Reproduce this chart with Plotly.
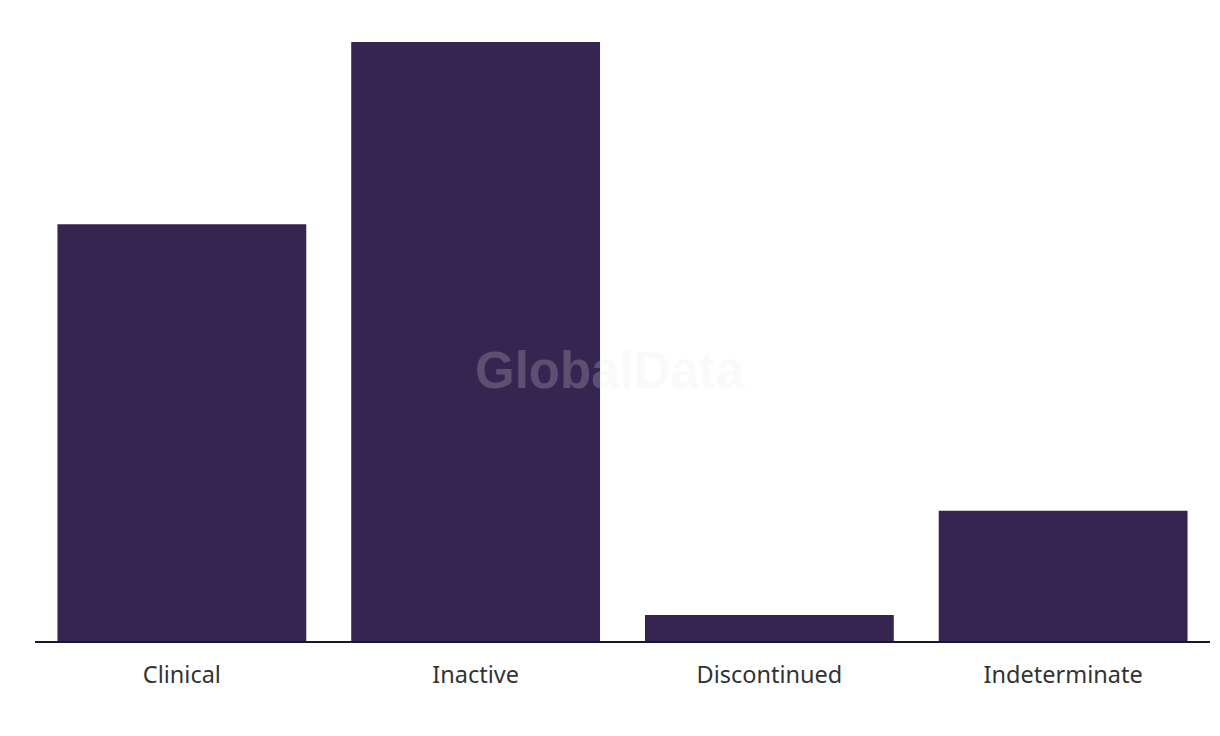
import plotly.graph_objects as go

# Pipeline status counts
categories = ['Clinical', 'Inactive', 'Discontinued', 'Indeterminate']
counts = [16, 23, 1, 5]

fig = go.Figure()
fig.add_trace(go.Bar(x=categories, y=counts, marker=dict(color='#362451', line=dict(width=0)),
                     hoverinfo='x+y'))

fig.update_layout(
    width=1204, height=720,
    margin=dict(l=27, r=2, t=34, b=87),
    plot_bgcolor='white', paper_bgcolor='white',
    bargap=0.153,
    showlegend=False,
    font=dict(family='Noto Sans, Roboto, sans-serif', size=22, color='#333333'),
    xaxis=dict(showline=True, linecolor='#1b1530', linewidth=2, showgrid=False,
               ticks='', ticklabelstandoff=12, tickfont=dict(size=23.5, color='#333333')),
    yaxis=dict(range=[0, 23], visible=False, showgrid=False, zeroline=False),
)

# Watermark
fig.add_annotation(text='<b>GlobalData</b>', x=0.489, y=0.452, xref='paper', yref='paper',
                   showarrow=False, font=dict(family='Liberation Sans, Arial, sans-serif', size=51,
                                              color='rgba(230,230,230,0.22)'))

fig.write_html('out.html')
